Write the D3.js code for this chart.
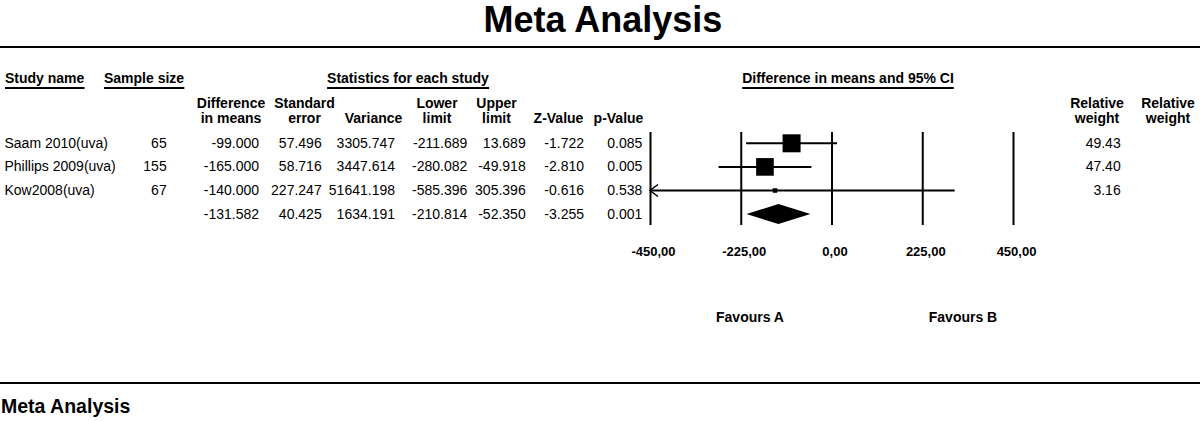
<!DOCTYPE html>
<html lang="en">
<head>
<meta charset="UTF-8">
<title>Meta Analysis</title>
<script src="https://cdn.jsdelivr.net/npm/d3@7"></script>
<style>
    body { margin: 0; background: #fff; }
    svg text { font-family: "Liberation Sans", Arial, sans-serif; fill: #000; }
    .hdr { font-weight: bold; font-size: 14px; }
    .cell { font-size: 14px; }
</style>
</head>
<body>
<div id="chart"></div>
<script>
    // study rows
    const studies = ["Saam 2010(uva)", "Phillips 2009(uva)", "Kow2008(uva)"];
    const sampleSize = [65, 155, 67];
    const diffMeans = [-99.000, -165.000, -140.000];
    const stdError = [57.496, 58.716, 227.247];
    const variance = [3305.747, 3447.614, 51641.198];
    const lowerLimit = [-211.689, -280.082, -585.396];
    const upperLimit = [13.689, -49.918, 305.396];
    const zValue = [-1.722, -2.810, -0.616];
    const pValue = [0.085, 0.005, 0.538];
    const relWeight = [49.43, 47.40, 3.16];

    // summary row
    const pooledDiff = -131.582;
    const pooledSE = 40.425;
    const pooledVar = 1634.191;
    const pooledLower = -210.814;
    const pooledUpper = -52.350;
    const pooledZ = -3.255;
    const pooledP = 0.001;

    const axisTicks = [-450, -225, 0, 225, 450];

    const w = 1200, h = 421;
    const svg = d3.select("#chart").append("svg").attr("width", w).attr("height", h);

    const f3 = v => v.toFixed(3);
    const f2 = v => v.toFixed(2);
    const commaFmt = d3.formatLocale({decimal: ",", thousands: ".", grouping: [3], currency: ["", ""], minus: "-"}).format(".2f");

    // title + rules
    svg.append("text").attr("x", 603).attr("y", 32).attr("text-anchor", "middle")
        .style("font-weight", "bold").style("font-size", "36px").text("Meta Analysis");
    svg.append("line").attr("x1", 0).attr("x2", w).attr("y1", 47).attr("y2", 47).attr("stroke", "#000").attr("stroke-width", 2);
    svg.append("line").attr("x1", 0).attr("x2", w).attr("y1", 383).attr("y2", 383).attr("stroke", "#000").attr("stroke-width", 2);
    svg.append("text").attr("x", 1).attr("y", 413).style("font-weight", "bold").style("font-size", "19.5px").text("Meta Analysis");

    // underlined group headers
    function underlined(x, y, anchor, txt) {
        const t = svg.append("text").attr("class", "hdr").attr("x", x).attr("y", y).attr("text-anchor", anchor).text(txt);
        const b = t.node().getBBox();
        svg.append("line").attr("x1", b.x).attr("x2", b.x + b.width).attr("y1", y + 5.5).attr("y2", y + 5.5)
            .attr("stroke", "#000").attr("stroke-width", 2);
    }
    underlined(5, 82.5, "start", "Study name");
    underlined(104, 82.5, "start", "Sample size");
    underlined(408, 82.5, "middle", "Statistics for each study");
    underlined(848, 82.5, "middle", "Difference in means and 95% CI");

    // column headers (two lines)
    const colHeads = [
        {x: 231, a: "Difference", b: "in means"},
        {x: 304.5, a: "Standard", b: "error"},
        {x: 373.5, a: "", b: "Variance"},
        {x: 437, a: "Lower", b: "limit"},
        {x: 496.5, a: "Upper", b: "limit"},
        {x: 558.5, a: "", b: "Z-Value"},
        {x: 618.5, a: "", b: "p-Value"},
        {x: 1097, a: "Relative", b: "weight"},
        {x: 1168, a: "Relative", b: "weight"}
    ];
    colHeads.forEach(c => {
        svg.append("text").attr("class", "hdr").attr("x", c.x).attr("y", 108).attr("text-anchor", "middle").text(c.a);
        svg.append("text").attr("class", "hdr").attr("x", c.x).attr("y", 122.5).attr("text-anchor", "middle").text(c.b);
    });

    // row positions
    const rowY = d3.scaleLinear().domain([0, 3]).range([143.3, 214.1]);
    const base = i => rowY(i) + 4.5;

    const colX = [166.7, 259, 321.7, 395, 467.3, 525.7, 584, 642.3];
    const tbl = svg.append("g").attr("class", "cell");
    studies.forEach((s, i) => {
        tbl.append("text").attr("x", 4.5).attr("y", base(i)).text(s);
        const vals = [String(sampleSize[i]), f3(diffMeans[i]), f3(stdError[i]), f3(variance[i]),
            f3(lowerLimit[i]), f3(upperLimit[i]), f3(zValue[i]), f3(pValue[i])];
        vals.forEach((v, j) => {
            tbl.append("text").attr("x", colX[j]).attr("y", base(i)).attr("text-anchor", "end").text(v);
        });
        tbl.append("text").attr("x", 1120.7).attr("y", base(i)).attr("text-anchor", "end").text(f2(relWeight[i]));
    });
    const pooledVals = [f3(pooledDiff), f3(pooledSE), f3(pooledVar), f3(pooledLower), f3(pooledUpper), f3(pooledZ), f3(pooledP)];
    pooledVals.forEach((v, j) => {
        tbl.append("text").attr("x", colX[j + 1]).attr("y", base(3)).attr("text-anchor", "end").text(v);
    });

    // forest plot
    const x = d3.scaleLinear().domain([-450, 450]).range([650, 1013]);
    const plotTop = 132, plotBottom = 225;

    const axis = d3.axisBottom(x).tickValues(axisTicks).tickFormat(commaFmt)
        .tickSize(-(plotBottom - plotTop)).tickPadding(22);
    const ax = svg.append("g").attr("transform", "translate(0," + plotBottom + ")").call(axis);
    ax.select(".domain").remove();
    ax.selectAll(".tick line").attr("stroke", "#000").attr("stroke-width", 2);
    ax.selectAll(".tick text").attr("fill", "#000").style("font-size", "13px").style("font-weight", "bold")
        .style("font-family", "\"Liberation Sans\", Arial, sans-serif").attr("dx", "3");

    const boxSize = d3.scaleSqrt().domain([0, 49.43]).range([0, 18]);
    const [xmin, xmax] = x.domain();

    studies.forEach((s, i) => {
        const lo = Math.max(lowerLimit[i], xmin);
        const hi = Math.min(upperLimit[i], xmax);
        const cy = rowY(i);
        svg.append("line").attr("x1", x(lo)).attr("x2", x(hi)).attr("y1", cy).attr("y2", cy)
            .attr("stroke", "#000").attr("stroke-width", 2);
        if (lowerLimit[i] < xmin) {
            svg.append("path").attr("d", `M${x(xmin) + 8},${cy - 6}L${x(xmin)},${cy}L${x(xmin) + 8},${cy + 6}`)
                .attr("fill", "none").attr("stroke", "#000").attr("stroke-width", 1.5);
        }
        if (upperLimit[i] > xmax) {
            svg.append("path").attr("d", `M${x(xmax) - 8},${cy - 6}L${x(xmax)},${cy}L${x(xmax) - 8},${cy + 6}`)
                .attr("fill", "none").attr("stroke", "#000").attr("stroke-width", 1.5);
        }
        const sz = boxSize(relWeight[i]);
        svg.append("rect").attr("x", x(diffMeans[i]) - sz / 2).attr("y", cy - sz / 2)
            .attr("width", sz).attr("height", sz).attr("fill", "#000");
    });

    // pooled diamond
    const dy = rowY(3);
    svg.append("path")
        .attr("d", `M${x(pooledLower)},${dy}L${x(pooledDiff)},${dy - 10}L${x(pooledUpper)},${dy}L${x(pooledDiff)},${dy + 10}Z`)
        .attr("fill", "#000");

    svg.append("text").attr("class", "hdr").attr("x", 750).attr("y", 322).attr("text-anchor", "middle").text("Favours A");
    svg.append("text").attr("class", "hdr").attr("x", 963).attr("y", 322).attr("text-anchor", "middle").text("Favours B");
</script>
</body>
</html>
